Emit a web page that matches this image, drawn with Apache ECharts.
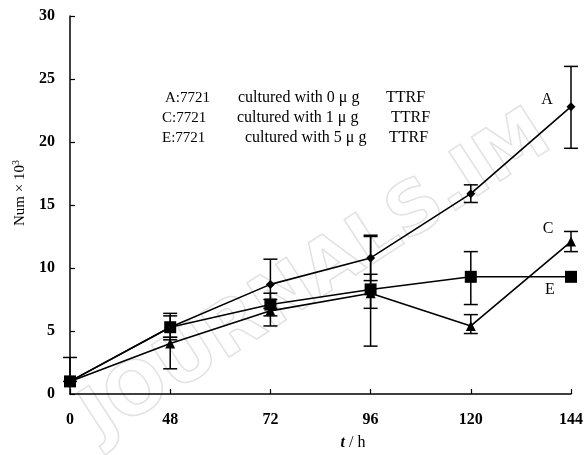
<!DOCTYPE html>
<html><head><meta charset="utf-8">
<script src="https://cdn.jsdelivr.net/npm/echarts@6/dist/echarts.min.js"></script>
<style>html,body{margin:0;padding:0;background:#fff}#c{width:586px;height:455px}</style>
</head><body><div id="c"></div>
<script>
var categories = ['0', '48', '72', '96', '120', '144'];
var seriesA = [1.0, 5.3, 8.7, 10.8, 15.9, 22.8];
var seriesA_lo = [null, 4.3, 6.8, 9.0, 15.2, 19.5];
var seriesA_hi = [null, 6.4, 10.7, 12.6, 16.6, 26.0];
var seriesC = [1.0, 4.0, 6.6, 8.0, 5.4, 12.1];
var seriesC_lo = [1.0, 2.0, 5.4, 3.8, 4.8, 11.3];
var seriesC_hi = [2.9, 4.5, 7.5, 12.5, 6.3, 12.9];
var seriesE = [1.0, 5.3, 7.1, 8.3, 9.3, 9.3];
var seriesE_lo = [null, 4.5, 6.2, 6.8, 7.1, null];
var seriesE_hi = [null, 6.2, 8.0, 9.5, 11.3, null];
var yTicks = [0, 5, 10, 15, 20, 25, 30];
var legendLines = [
  ['A:7721', 'cultured with 0 μ g', 'TTRF'],
  ['C:7721', 'cultured with 1 μ g', 'TTRF'],
  ['E:7721', 'cultured with 5 μ g', 'TTRF']
];

var FONT = '"Liberation Serif", "DejaVu Serif", serif';

function errData(lo, hi) {
  var out = [];
  for (var i = 0; i < categories.length; i++) {
    if (lo[i] != null && hi[i] != null) out.push([i, lo[i], hi[i]]);
  }
  return out;
}
function errSeries(lo, hi) {
  return {
    type: 'custom',
    z: 3,
    silent: true,
    data: errData(lo, hi),
    renderItem: function (params, api) {
      var x = api.value(0);
      var p1 = api.coord([x, api.value(1)]);
      var p2 = api.coord([x, api.value(2)]);
      var w = 7;
      var st = { stroke: '#000', lineWidth: 1.5, fill: null };
      return {
        type: 'group',
        children: [
          { type: 'line', shape: { x1: p1[0], y1: p1[1], x2: p2[0], y2: p2[1] }, style: st },
          { type: 'line', shape: { x1: p1[0] - w, y1: p1[1], x2: p1[0] + w, y2: p1[1] }, style: st },
          { type: 'line', shape: { x1: p2[0] - w, y1: p2[1], x2: p2[0] + w, y2: p2[1] }, style: st }
        ]
      };
    }
  };
}
function lineSeries(name, data, symbol, size) {
  return {
    name: name, type: 'line', data: data, symbol: symbol, symbolSize: size,
    z: 4,
    lineStyle: { color: '#000', width: 1.6 },
    itemStyle: { color: '#000' }
  };
}

var graphics = [];
var colX = [[165, 238, 386], [162, 237, 391], [162, 245, 389]];
var colFont = ['15px ', '16px ', '16px '];
var rowY = [98, 118, 138];
legendLines.forEach(function (row, r) {
  row.forEach(function (t, c) {
    graphics.push({ type: 'text', x: colX[r][c], y: rowY[r], style: { text: t, font: colFont[c] + FONT, fill: '#000', textVerticalAlign: 'middle' } });
  });
});
graphics.push({ type: 'text', x: 547, y: 100, style: { text: 'A', font: '16px ' + FONT, fill: '#000', textAlign: 'center', textVerticalAlign: 'middle' } });
graphics.push({ type: 'text', x: 548, y: 229, style: { text: 'C', font: '16px ' + FONT, fill: '#000', textAlign: 'center', textVerticalAlign: 'middle' } });
graphics.push({ type: 'text', x: 550, y: 290, style: { text: 'E', font: '16px ' + FONT, fill: '#000', textAlign: 'center', textVerticalAlign: 'middle' } });
graphics.push({ type: 'text', x: 353, y: 443, style: {
  text: '{t|t} / h', textAlign: 'center', textVerticalAlign: 'middle',
  rich: { t: { font: 'italic bold 16px ' + FONT, fill: '#000' } },
  font: '16px ' + FONT, fill: '#000' } });
graphics.push({ type: 'text', x: 20, y: 193, rotation: Math.PI / 2, style: {
  text: 'Num × 10{s|3}', textAlign: 'center', textVerticalAlign: 'middle',
  rich: { s: { font: '10px ' + FONT, fill: '#000', verticalAlign: 'top', padding: [0, 0, 8, 0] } },
  font: '15px ' + FONT, fill: '#000' } });
graphics.push({ type: 'text', x: 110, y: 455, rotation: 33 * Math.PI / 180, z: -10, style: {
  text: 'JOURNALS.IM', font: 'bold 72px "DejaVu Sans", sans-serif', fill: 'rgba(255,255,255,0)', stroke: '#e2e2e2', lineWidth: 1.5, textVerticalAlign: 'bottom' } });

var chart = echarts.init(document.getElementById('c'), null, { renderer: 'canvas' });
chart.setOption({
  animation: false,
  backgroundColor: '#fff',
  grid: { left: 70, right: 13, top: 16, bottom: 61 },
  xAxis: {
    type: 'category', data: categories, boundaryGap: false,
    axisLine: { lineStyle: { color: '#000', width: 1.5 } },
    axisTick: { inside: true, length: 5, lineStyle: { color: '#000', width: 1.2 } },
    axisLabel: { color: '#000', fontFamily: FONT, fontWeight: 'bold', fontSize: 16, margin: 18 },
    splitLine: { show: false }
  },
  yAxis: {
    type: 'value', min: yTicks[0], max: yTicks[yTicks.length - 1], interval: 5,
    axisLine: { show: true, lineStyle: { color: '#000', width: 1.5 } },
    axisTick: { show: true, inside: true, length: 5, lineStyle: { color: '#000', width: 1.2 } },
    axisLabel: { color: '#000', fontFamily: FONT, fontWeight: 'bold', fontSize: 16, margin: 15 },
    splitLine: { show: false }
  },
  graphic: graphics,
  series: [
    lineSeries('E', seriesE, 'rect', 12),
    lineSeries('C', seriesC, 'triangle', 10),
    lineSeries('A', seriesA, 'diamond', 9),
    errSeries(seriesA_lo, seriesA_hi),
    errSeries(seriesC_lo, seriesC_hi),
    errSeries(seriesE_lo, seriesE_hi)
  ]
});
</script></body></html>
